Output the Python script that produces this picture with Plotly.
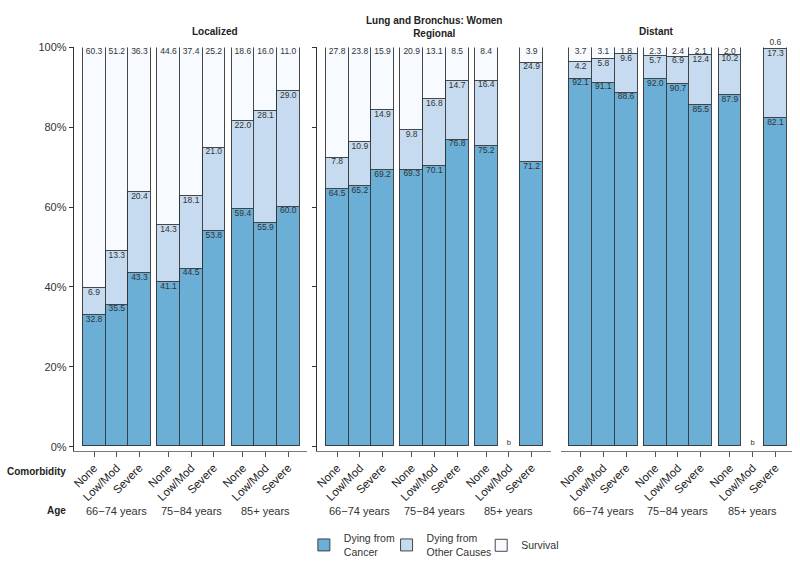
import plotly.graph_objects as go

# ---------------- data ----------------
stages = ["Localized", "Regional", "Distant"]
ages = ["66\u221274 years", "75\u221284 years", "85+ years"]
comorbidities = ["None", "Low/Mod", "Severe"]
series_names = ["Dying from<br>Cancer", "Dying from<br>Other Causes", "Survival"]

loc_cancer = [32.8, 35.5, 43.3, 41.1, 44.5, 53.8, 59.4, 55.9, 60.0]
loc_other = [6.9, 13.3, 20.4, 14.3, 18.1, 21.0, 22.0, 28.1, 29.0]
loc_surv = [60.3, 51.2, 36.3, 44.6, 37.4, 25.2, 18.6, 16.0, 11.0]

reg_cancer = [64.5, 65.2, 69.2, 69.3, 70.1, 76.8, 75.2, None, 71.2]
reg_other = [7.8, 10.9, 14.9, 9.8, 16.8, 14.7, 16.4, None, 24.9]
reg_surv = [27.8, 23.8, 15.9, 20.9, 13.1, 8.5, 8.4, None, 3.9]

dist_cancer = [92.1, 91.1, 88.6, 92.0, 90.7, 85.5, 87.9, None, 82.1]
dist_other = [4.2, 5.8, 9.6, 5.7, 6.9, 12.4, 10.2, None, 17.3]
dist_surv = [3.7, 3.1, 1.8, 2.3, 2.4, 2.1, 2.0, None, 0.6]

panels = [
    (loc_cancer, loc_other, loc_surv),
    (reg_cancer, reg_other, reg_surv),
    (dist_cancer, dist_other, dist_surv),
]

y_ticks = [0, 20, 40, 60, 80, 100]
y_ticklabels = ["0%", "20%", "40%", "60%", "80%", "100%"]

# ---------------- style ----------------
W, H = 800, 567
FONT = "Liberation Sans, Arial, Helvetica, sans-serif"
colors = ["#6baed6", "#c6dbef", "#f7fbff"]
edge = "#333333"
GROUP_PITCH = 3.28

x_domains_px = [(71, 305), (315, 550), (560, 792)]
x_ranges = [(-0.895, 9.38), (-0.895, 9.41), (-0.864, 9.29)]
y_dom = [1 - 451 / H, 1 - 42 / H]
legend_ids = ["legend", "legend2", "legend3"]
legend_left_px = [302, 385, 480]

xpos = [gi * GROUP_PITCH + ci for gi in range(len(ages)) for ci in range(len(comorbidities))]

fig = go.Figure()

for p, series in enumerate(panels):
    xa = "x" if p == 0 else f"x{p + 1}"
    ya = "y" if p == 0 else f"y{p + 1}"
    for s, vals in enumerate(series):
        fig.add_trace(go.Bar(
            x=xpos, y=vals, width=1, xaxis=xa, yaxis=ya,
            name=series_names[s], legendgroup=series_names[s], showlegend=(p == 0),
            legend=legend_ids[s],
            marker=dict(color=colors[s], line=dict(color=edge, width=0.9)),
            hoverinfo="skip",
        ))
    # value labels at the top of each segment
    tx, ty, tt, tp = [], [], [], []
    for i in range(len(xpos)):
        cum = 0.0
        for s, vals in enumerate(series):
            v = vals[i]
            if v is None:
                continue
            cum += v
            tx.append(xpos[i])
            ty.append(min(cum, 100.0))
            tt.append(f"{v:.1f}")
            tp.append("top center" if v < 1 else "bottom center")
    fig.add_trace(go.Scatter(
        x=tx, y=ty, text=tt, mode="text", textposition=tp, xaxis=xa, yaxis=ya,
        textfont=dict(size=8.5, color="#333333", family=FONT),
        showlegend=False, hoverinfo="skip", cliponaxis=False,
    ))
    # missing-value markers
    mx = [xpos[i] for i in range(len(xpos)) if series[0][i] is None]
    if mx:
        fig.add_trace(go.Scatter(
            x=mx, y=[0] * len(mx), text=["b"] * len(mx), mode="text",
            textposition="top center", xaxis=xa, yaxis=ya,
            textfont=dict(size=7.5, color="#333333", family=FONT),
            showlegend=False, hoverinfo="skip", cliponaxis=False,
        ))

layout = dict(
    width=W, height=H, autosize=False,
    margin=dict(l=0, r=0, t=0, b=0),
    paper_bgcolor="white", plot_bgcolor="white",
    barmode="stack", bargap=0,
    font=dict(family=FONT, size=11, color="#222222"),
    showlegend=True,
)
for lid, lx in zip(legend_ids, legend_left_px):
    layout[lid] = dict(orientation="h", x=lx / W, xanchor="left", y=1 - 547 / H, yanchor="middle",
                       font=dict(size=10.5, color="#333333"), itemwidth=30,
                       bgcolor="rgba(0,0,0,0)")

for p in range(3):
    xkey = "xaxis" if p == 0 else f"xaxis{p + 1}"
    ykey = "yaxis" if p == 0 else f"yaxis{p + 1}"
    ya = "y" if p == 0 else f"y{p + 1}"
    xa = "x" if p == 0 else f"x{p + 1}"
    d0, d1 = x_domains_px[p]
    layout[xkey] = dict(
        domain=[d0 / W, d1 / W], anchor=ya, range=list(x_ranges[p]),
        tickvals=xpos, ticktext=comorbidities * len(ages), tickangle=-45,
        ticks="outside", ticklen=5, tickcolor="#555555",
        tickfont=dict(size=11.5, color="#222222"),
        showline=True, linecolor="#777777", linewidth=1.2,
        showgrid=False, zeroline=False, fixedrange=True,
    )
    layout[ykey] = dict(
        domain=y_dom, anchor=xa, range=[-1, 100],
        tickvals=y_ticks, ticktext=y_ticklabels,
        showticklabels=(p == 0), ticks=("outside" if p < 2 else ""), ticklen=4,
        tickcolor="#333333", tickfont=dict(size=11, color="#333333"),
        showline=(p < 2), linecolor="#333333", linewidth=1,
        showgrid=False, zeroline=False, fixedrange=True,
    )

fig.update_layout(**layout)

ann = []
TF = dict(size=10, color="#222222")
common = dict(showarrow=False, yref="paper", yanchor="middle")
# panel titles
ann.append(dict(x=((x_domains_px[0][0] + x_domains_px[0][1]) / 2) / W, y=1 - 26 / H,
                text="<b>Localized</b>", xref="paper", font=TF, **common))
ann.append(dict(x=((x_domains_px[1][0] + x_domains_px[1][1]) / 2) / W, y=1 - 21 / H,
                text="<b>Lung and Bronchus: Women</b><br><b>Regional</b>",
                xref="paper", font=TF, **common))
ann.append(dict(x=((x_domains_px[2][0] + x_domains_px[2][1]) / 2) / W, y=1 - 26 / H,
                text="<b>Distant</b>", xref="paper", font=TF, **common))
# row titles
ann.append(dict(x=65 / W, y=1 - 472 / H, text="<b>Comorbidity</b>",
                xref="paper", xanchor="right", font=TF, **common))
ann.append(dict(x=65 / W, y=1 - 512 / H, text="<b>Age</b>",
                xref="paper", xanchor="right", font=TF, **common))
# age labels
for p in range(3):
    xa = "x" if p == 0 else f"x{p + 1}"
    for gi, a in enumerate(ages):
        ann.append(dict(x=gi * GROUP_PITCH + 1, y=1 - 512 / H, xref=xa,
                        text=a, font=dict(size=11, color="#333333"), **common))

fig.update_layout(annotations=ann)

fig.write_html("out.html", config={"displayModeBar": False},
               post_script="document.body.style.margin='0';document.body.style.overflow='hidden';")
